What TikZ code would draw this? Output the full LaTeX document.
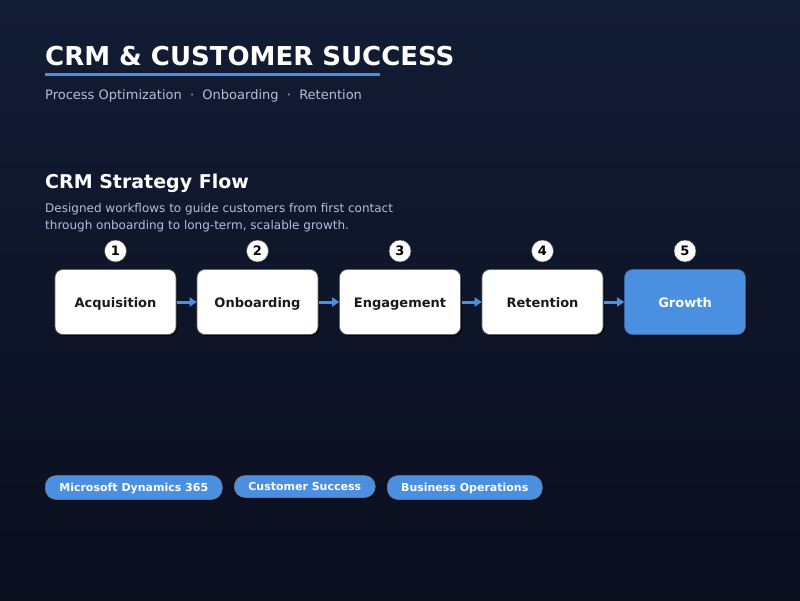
\documentclass[tikz,border=0pt]{standalone}
\usepackage{fontspec}
\setmainfont{DejaVu Sans}
\usetikzlibrary{arrows.meta,shadows}
\definecolor{bgtop}{HTML}{121C34}
\definecolor{bgbot}{HTML}{0A0F1E}
\definecolor{accent}{HTML}{4A8FE0}
\definecolor{subtxt}{HTML}{B4BED4}
\definecolor{boxtxt}{HTML}{1A1A1A}
\tikzset{
  stagebox/.style={draw=black!60, line width=0.6pt, fill=white, rounded corners=8pt,
    minimum width=121pt, minimum height=65pt, inner sep=0pt,
    text height=11.5pt, text depth=0.5pt,
    font=\fontsize{13}{15}\selectfont\bfseries, text=boxtxt,
    drop shadow={shadow xshift=1.5pt, shadow yshift=-1.5pt, opacity=0.6, fill=black}},
  hibox/.style={stagebox, fill=accent, text=white, draw=accent!70!black},
  numcirc/.style={circle, fill=white, draw=black!70, line width=0.5pt, minimum size=22pt, inner sep=0pt,
    font=\fontsize{13}{15}\selectfont\bfseries, text=black},
  flowarrow/.style={-{Triangle[length=7pt,width=9pt]}, line width=3pt, draw=accent, shorten <=1pt, shorten >=0pt},
  pill/.style={fill=accent, rounded corners=11pt, minimum height=24pt, inner xsep=12pt, inner ysep=0pt,
    text height=9pt, text depth=1.5pt,
    font=\fontsize{11}{13}\selectfont\bfseries, text=white, draw=black!50, line width=0.5pt},
}
\begin{document}
\begin{tikzpicture}[x=1pt,y=-1pt]
\shade[top color=bgtop, bottom color=bgbot] (0,0) rectangle (800,600);
\useasboundingbox (0,0) rectangle (800,600);
% title
\node[anchor=base west, inner sep=0pt, text=white, font=\fontsize{26}{30}\selectfont\bfseries] (title) at (45,65) {CRM \& CUSTOMER SUCCESS};
\fill[accent] (45,72.5) rectangle (380,75.5);
\node[anchor=base west, inner sep=0pt, text=subtxt, font=\fontsize{13}{16}\selectfont] (sub) at (45,99) {Process Optimization\ \ ·\ \ Onboarding\ \ ·\ \ Retention};
% section
\node[anchor=base west, inner sep=0pt, text=white, font=\fontsize{19}{22}\selectfont\bfseries] (sect) at (45,188) {CRM Strategy Flow};
\node[anchor=base west, inner sep=0pt, text=subtxt, font=\fontsize{12}{15}\selectfont] (d1) at (45,212) {Designed workflows to guide customers from first contact};
\node[anchor=base west, inner sep=0pt, text=subtxt, font=\fontsize{12}{15}\selectfont] (d2) at (45,229) {through onboarding to long-term, scalable growth.};
% stages
\node[stagebox] (s1) at (115.5,302) {Acquisition};
\node[stagebox] (s2) at (257.5,302) {Onboarding};
\node[stagebox] (s3) at (400,302) {Engagement};
\node[stagebox] (s4) at (542.5,302) {Retention};
\node[hibox] (s5) at (685,302) {Growth};
\foreach \i in {1,...,5} {
  \node[numcirc] (n\i) at ([yshift=51pt]s\i.center) {\i};
}
\draw[flowarrow] (s1.east) -- (s2.west);
\draw[flowarrow] (s2.east) -- (s3.west);
\draw[flowarrow] (s3.east) -- (s4.west);
\draw[flowarrow] (s4.east) -- (s5.west);
% pills
\node[pill, anchor=west, minimum width=177pt] (p1) at (45,487.5) {Microsoft Dynamics 365};
\node[pill, anchor=west, minimum width=141pt, minimum height=22pt] (p2) at (234,486.5) {Customer Success};
\node[pill, anchor=west, minimum width=155pt] (p3) at (387,487.5) {Business Operations};
\end{tikzpicture}
\end{document}
